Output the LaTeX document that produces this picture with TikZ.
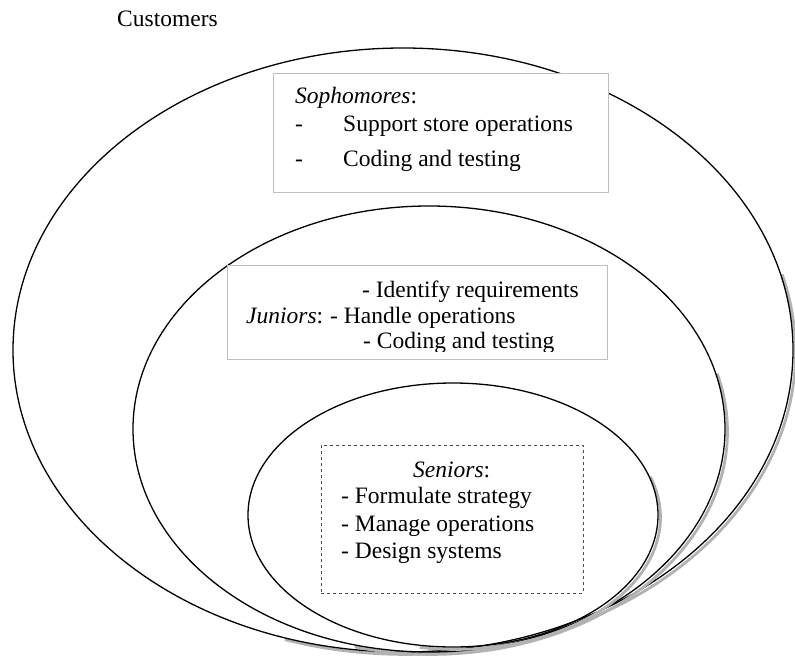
\documentclass[tikz,border=0pt]{standalone}
\usepackage{fontspec}
\setmainfont{Liberation Serif}
\usetikzlibrary{positioning}
\tikzset{>=stealth}

\begin{document}
\begin{tikzpicture}[x=1pt,y=-1pt,
    font=\fontsize{23.5}{28}\selectfont,
    ring/.style={line width=1.3pt},
    ringshadow/.style={line width=2.8pt, draw=gray!60, shift={(2.4,2.4)}},
    lbl/.style={inner sep=0pt, anchor=base west},
    groupbox/.style={draw=gray!50, line width=0.6pt, fill=white,
      anchor=north west, inner sep=0pt}]
  \useasboundingbox (0,0) rectangle (795,656);

  \node [lbl] (customers) at (117,26) {Customers};

  % rings, outermost first
  \draw [ringshadow] ([shift={(-15:390 and 302)}]403,350)
    arc [start angle=-15, end angle=108, x radius=390, y radius=302];
  \draw [ring] (403,350) ellipse [x radius=390, y radius=302];

  \draw [ringshadow] ([shift={(-15:296 and 223)}]429,429)
    arc [start angle=-15, end angle=105, x radius=296, y radius=223];
  \draw [ring] (429,429) ellipse [x radius=296, y radius=223];

  \draw [ringshadow] ([shift={(-18:205 and 132)}]453,515)
    arc [start angle=-18, end angle=100, x radius=205, y radius=132];
  \draw [ring] (453,515) ellipse [x radius=205, y radius=132];

  % Sophomores
  \node [groupbox,
    minimum width=335, minimum height=119
  ] (sophbox) at (273,73) {};
  \node [lbl] (soph) at (295,103) {\textit{Sophomores}:};
  \node [lbl] (sophsupport) at (295,131) {\makebox[48pt][l]{-}Support store operations};
  \node [lbl] (sophcoding) at (295,166) {\makebox[48pt][l]{-}Coding and testing};

  % Juniors
  \node [groupbox,
    minimum width=380, minimum height=94
  ] (junbox) at (227,265) {};
  \node [lbl] (junident) at (362,297) {- Identify requirements};
  \node [lbl] (jun) at (246,323) {\textit{Juniors}:};
  \node [lbl] (junhandle) at (330,323) {- Handle operations};
  \begin{scope}
    \clip (227,265) rectangle (607,351);
    \node [lbl] (juncoding) at (363,348) {- Coding and testing};
  \end{scope}

  % Seniors
  \node [groupbox,
    draw=black!70, dash pattern=on 3pt off 3pt,
    minimum width=262, minimum height=148
  ] (senbox) at (321,445) {};
  \node [lbl] (sen) at (413,477) {\textit{Seniors}:};
  \node [lbl] (senstrategy) at (341,503) {- Formulate strategy};
  \node [lbl] (senmanage) at (341,531) {- Manage operations};
  \node [lbl] (sendesign) at (341,558) {- Design systems};
\end{tikzpicture}
\end{document}
